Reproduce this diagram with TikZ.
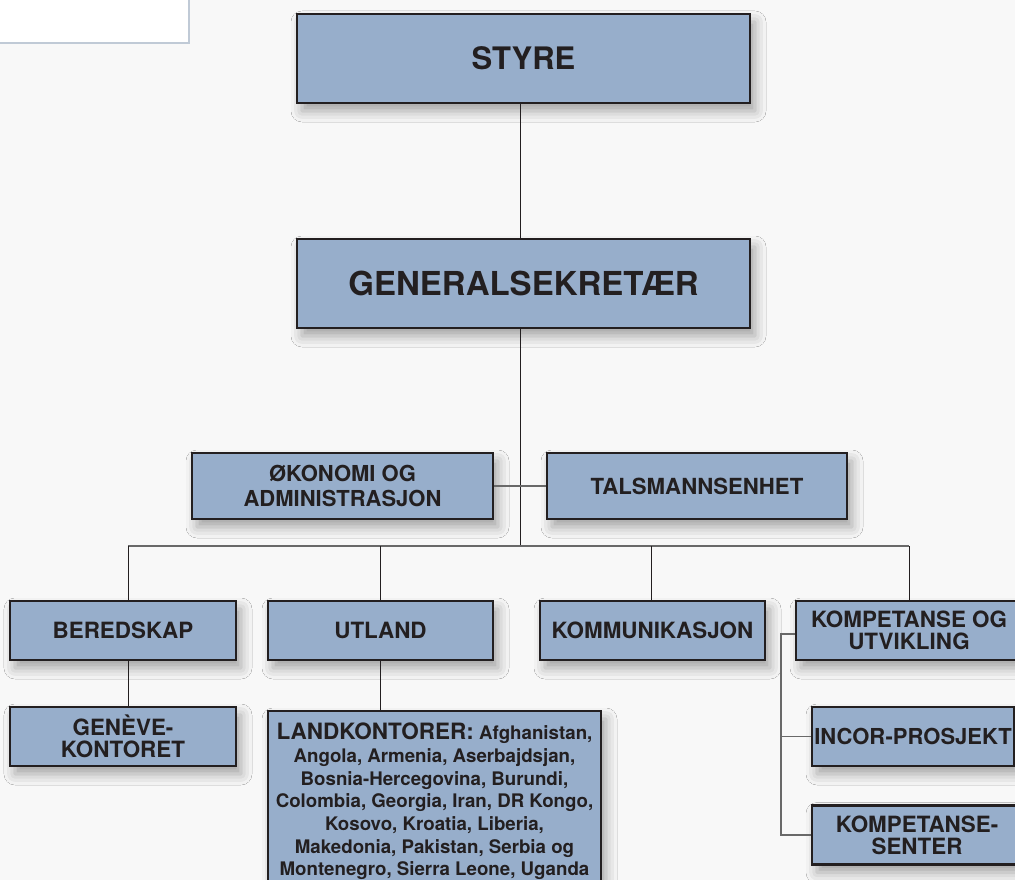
\documentclass[tikz,border=0pt]{standalone}
\usepackage{fontspec}
\setmainfont{TeX Gyre Heros}
\usepackage{xcolor}
\definecolor{boxblue}{RGB}{151, 174, 203}
\definecolor{inkdark}{RGB}{35, 31, 32}
\definecolor{paper}{RGB}{248, 248, 248}
\definecolor{frameblue}{RGB}{192, 202, 214}
\definecolor{busgray}{RGB}{105, 105, 105}
\usepackage{tikz}
\usetikzlibrary{
    positioning,
    shadows.blur
}
\tikzstyle{orgbox} = [
    draw=inkdark,
    line width=2.4pt,
    fill=boxblue,
    text=inkdark,
    align=center,
    inner sep=0pt,
    blur shadow={shadow xshift=5pt, shadow yshift=-8pt, shadow blur radius=11pt, shadow opacity=35}
]
\tikzstyle{link} = [
    draw=inkdark,
    line width=1pt
]
\tikzstyle{bus} = [
    draw=busgray,
    line width=1.3pt
]

\begin{document}
\begin{tikzpicture}[x=1pt, y=-1pt]
        \useasboundingbox (0,0) rectangle (1015,880);
        \clip (0,0) rectangle (1015,880);

        % Page background
        \fill[paper] (0,0) rectangle (1015,880);
        \filldraw[fill=white, draw=frameblue, line width=1.5pt] (-5,-5) rectangle (189,43);

        % Top levels
        \node[orgbox, minimum width=453pt, minimum height=89pt,
              font=\bfseries\fontsize{31}{36}\selectfont] (styre) at (523.5,58.5) {STYRE};
        \node[orgbox, minimum width=453pt, minimum height=89pt,
              font=\bfseries\fontsize{33}{38}\selectfont] (gensek) at (523.5,283.5) {GENERALSEKRETÆR};

        % Staff units
        \node[orgbox, minimum width=301pt, minimum height=66pt,
              font=\bfseries\fontsize{22}{25.5}\selectfont] (okonomi) at (342.5,486) {ØKONOMI OG\\ADMINISTRASJON};
        \node[orgbox, minimum width=300pt, minimum height=66pt,
              font=\bfseries\fontsize{22.2}{25}\selectfont] (talsmann) at (697,486) {TALSMANNSENHET};

        % Departments
        \node[orgbox, minimum width=226pt, minimum height=59pt,
              font=\bfseries\fontsize{22.4}{22}\selectfont] (beredskap) at (123,630.5) {BEREDSKAP};
        \node[orgbox, minimum width=225pt, minimum height=59pt,
              font=\bfseries\fontsize{22.4}{22}\selectfont] (utland) at (380.5,630.5) {UTLAND};
        \node[orgbox, minimum width=225pt, minimum height=59pt,
              font=\bfseries\fontsize{22.4}{22}\selectfont] (kommunikasjon) at (652.5,630.5) {KOMMUNIKASJON};
        \node[orgbox, minimum width=226pt, minimum height=59pt,
              font=\bfseries\fontsize{22.4}{22}\selectfont] (kompetanse) at (909,630.5) {KOMPETANSE OG\\UTVIKLING};

        % Sub units
        \node[orgbox, minimum width=226pt, minimum height=59pt,
              font=\bfseries\fontsize{22.4}{22}\selectfont] (geneve) at (123,736.5) {GENÈVE-\\KONTORET};
        \node[orgbox, minimum width=333pt, minimum height=181pt,
              font=\bfseries\fontsize{18.7}{22.7}\selectfont] (landkontor) at (434.5,801.5)
              {{\fontsize{22.5}{22.7}\selectfont LANDKONTORER:} Afghanistan,\\
               Angola, Armenia, Aserbajdsjan,\\
               Bosnia-Hercegovina, Burundi,\\
               Colombia, Georgia, Iran, DR Kongo,\\
               Kosovo, Kroatia, Liberia,\\
               Makedonia, Pakistan, Serbia og\\
               Montenegro, Sierra Leone, Uganda};
        \node[orgbox, minimum width=202pt, minimum height=59pt,
              font=\bfseries\fontsize{22}{22}\selectfont] (incor) at (913,736.5) {INCOR-PROSJEKT};
        \node[orgbox, minimum width=210pt, minimum height=59pt,
              font=\bfseries\fontsize{22.4}{22}\selectfont] (kompsenter) at (917,835) {KOMPETANSE-\\SENTER};

        % Trunk and bus
        \coordinate (trunk) at (520,546);
        \coordinate (busL) at (128,546);
        \coordinate (busU) at (380,546);
        \coordinate (busK) at (651,546);
        \coordinate (busR) at (909,546);
        \coordinate (brk) at (781,634);

        \draw[link] (styre.south -| trunk) -- (gensek.north -| trunk);
        \draw[link] (gensek.south -| trunk) -- (trunk);
        \draw[bus] (okonomi.east) -- (talsmann.west);
        \draw[bus] (busL) -- (busR);

        % Drops to departments
        \draw[link] (busL) -- (busL |- beredskap.north);
        \draw[link] (busU) -- (busU |- utland.north);
        \draw[link] (busK) -- (busK |- kommunikasjon.north);
        \draw[link] (busR) -- (busR |- kompetanse.north);

        % Sub unit links
        \draw[link] (beredskap.south -| busL) -- (geneve.north -| busL);
        \draw[link] (utland.south -| busU) -- (landkontor.north -| busU);
        \draw[bus] (kompetanse.west |- brk) -- (brk) -- (brk |- kompsenter.west) -- (kompsenter.west);
        \draw[bus] (brk |- incor.west) -- (incor.west);
\end{tikzpicture}
\end{document}
